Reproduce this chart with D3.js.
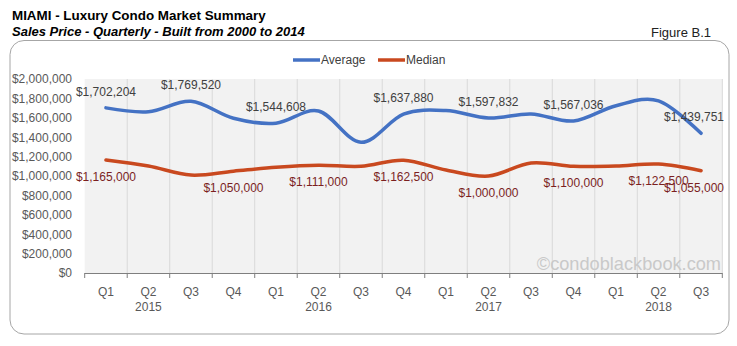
<!DOCTYPE html>
<html><head><meta charset="utf-8">
<script src="https://cdn.jsdelivr.net/npm/d3@7"></script>
<style>
html,body{margin:0;padding:0;background:#fff;}
svg{display:block;font-family:"Liberation Sans",Arial,sans-serif;}
</style></head>
<body>
<svg id="chart" width="737" height="346"></svg>
<script>
const quarters = ["Q1","Q2","Q3","Q4","Q1","Q2","Q3","Q4","Q1","Q2","Q3","Q4","Q1","Q2","Q3"];
const years = ["2015","2015","2015","2015","2016","2016","2016","2016","2017","2017","2017","2017","2018","2018","2018"];
const yearLabels = ["","2015","","","","2016","","","","2017","","","","2018",""];
const averageValues = [1702204,1663000,1769520,1595000,1544608,1670000,1347000,1637880,1675000,1597832,1640000,1567036,1725000,1775000,1439751];
const medianValues = [1165000,1103000,1010000,1050000,1090000,1111000,1100000,1162500,1062000,1000000,1135000,1100000,1102000,1122500,1055000];
const averageLabelIdx = [0,2,4,7,9,11,14];
const medianLabelIdx = [0,3,5,7,9,11,13,14];
const yTicks = [0,200000,400000,600000,800000,1000000,1200000,1400000,1600000,1800000,2000000];
const seriesNames = ["Average","Median"];

(function(){
const svg = d3.select("#chart");
const pLeft = 84.7, pRight = 722.3, pTop = 79, pBottom = 273;
const keys = quarters.map((q,i)=>i);
const x = d3.scaleBand().domain(keys).range([pLeft,pRight]).padding(0);
const y = d3.scaleLinear().domain([0,2000000]).range([pBottom,pTop]);
const fmt = d3.format("$,");
const cx = i => x(i) + x.bandwidth()/2;

// titles
svg.append("text").attr("x",12).attr("y",20).attr("font-size",13.4).attr("font-weight","bold").attr("fill","#000")
  .text("MIAMI - Luxury Condo Market Summary");
svg.append("text").attr("x",12).attr("y",36).attr("font-size",13).attr("font-weight","bold").attr("font-style","italic").attr("fill","#000")
  .text("Sales Price - Quarterly - Built from 2000 to 2014");
svg.append("text").attr("x",711).attr("y",37).attr("font-size",13).attr("text-anchor","end").attr("fill","#222")
  .text("Figure B.1");

// frame
svg.append("rect").attr("x",10).attr("y",40.5).attr("width",719).attr("height",293.5).attr("rx",14).attr("ry",14)
  .attr("fill","#fff").attr("stroke","#a6a6a6").attr("stroke-width",1);

// plot background
svg.append("rect").attr("x",pLeft).attr("y",pTop).attr("width",pRight-pLeft).attr("height",pBottom-pTop).attr("fill","#f2f2f2");

// vertical gridlines
const bounds = keys.map(i=>x(i)).concat([pRight]);
svg.append("g").selectAll("line").data(bounds.slice(1)).join("line")
  .attr("x1",d=>d).attr("x2",d=>d).attr("y1",pTop).attr("y2",pBottom)
  .attr("stroke","#d9d9d9").attr("stroke-width",1);

// watermark
svg.append("text").attr("x",721).attr("y",270).attr("text-anchor","end").attr("font-size",18.2)
  .attr("fill","#c9c9c9").text("\u00A9condoblackbook.com");

// y axis labels
const yAxis = d3.axisLeft(y).tickValues(yTicks).tickFormat(fmt).tickSize(0).tickPadding(0);
const gy = svg.append("g").attr("transform",`translate(72,0)`).call(yAxis);
gy.select(".domain").remove();
gy.selectAll("text").attr("font-size",12).attr("fill","#595959").attr("font-family","Liberation Sans, Arial, sans-serif");

// x axis
const gx = svg.append("g").attr("transform",`translate(0,${pBottom})`)
  .call(d3.axisBottom(x).tickFormat(i=>quarters[i]).tickSize(0).tickPadding(14));
gx.select(".domain").attr("stroke","#7f7f7f").attr("d",`M${pLeft},0.5H${pRight}`);
gx.selectAll("text").attr("font-size",12).attr("fill","#595959").attr("font-family","Liberation Sans, Arial, sans-serif");
svg.append("g").selectAll("line").data(bounds).join("line")
  .attr("x1",d=>d).attr("x2",d=>d).attr("y1",pBottom).attr("y2",pBottom+5)
  .attr("stroke","#7f7f7f").attr("stroke-width",1);
svg.append("g").selectAll("text").data(keys.filter(i=>yearLabels[i])).join("text")
  .attr("x",cx).attr("y",311).attr("text-anchor","middle").attr("font-size",12).attr("fill","#595959")
  .text(i=>yearLabels[i]);

// lines
const line = d3.line().x((d,i)=>cx(i)).y(d=>y(d)).curve(d3.curveCatmullRom.alpha(0));
svg.append("path").datum(averageValues).attr("d",line).attr("fill","none").attr("stroke","#4472c4").attr("stroke-width",3.5).attr("stroke-linecap","round");
svg.append("path").datum(medianValues).attr("d",line).attr("fill","none").attr("stroke","#c9491f").attr("stroke-width",3.5).attr("stroke-linecap","round");

// data labels
function labelX(i){ return Math.min(cx(i), 694); }
svg.append("g").selectAll("text").data(averageLabelIdx).join("text")
  .attr("x",labelX).attr("y",i=>y(averageValues[i])-12).attr("text-anchor","middle").attr("font-size",12).attr("fill","#404040")
  .text(i=>fmt(averageValues[i]));
svg.append("g").selectAll("text").data(medianLabelIdx).join("text")
  .attr("x",labelX).attr("y",i=>y(medianValues[i])+21).attr("text-anchor","middle").attr("font-size",12).attr("fill","#7b1f1f")
  .text(i=>fmt(medianValues[i]));

// legend
const leg = svg.append("g");
const legItems = [{n:seriesNames[0],c:"#4472c4",x:293},{n:seriesNames[1],c:"#c9491f",x:378}];
legItems.forEach(d=>{
  leg.append("line").attr("x1",d.x).attr("x2",d.x+27).attr("y1",60).attr("y2",60).attr("stroke",d.c).attr("stroke-width",3.5);
  leg.append("text").attr("x",d.x+28).attr("y",64).attr("font-size",12).attr("fill","#404040").text(d.n);
});
})();
</script>
</body></html>
